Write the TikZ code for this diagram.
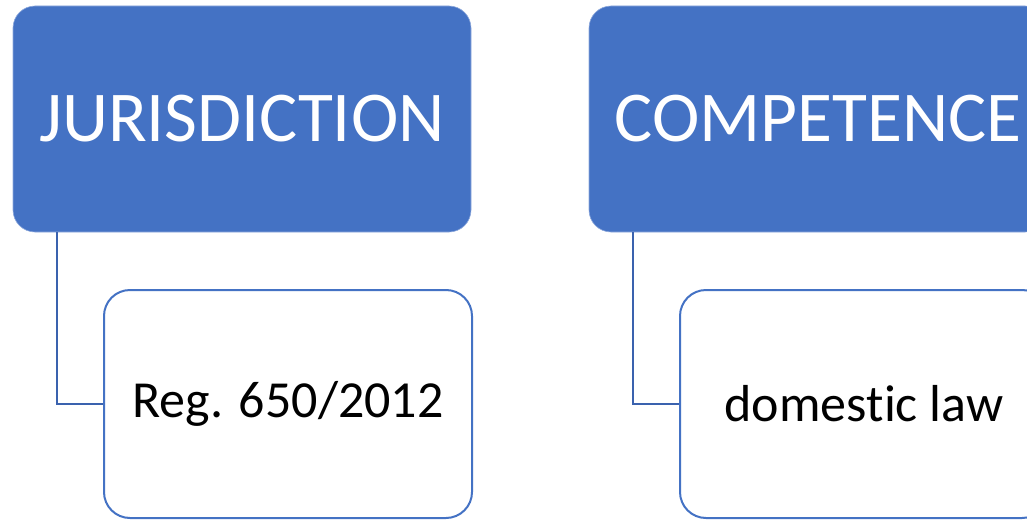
\documentclass[tikz,border=0pt]{standalone}
\usepackage{fontspec}
\setmainfont{Carlito}[Ligatures=NoCommon]
\usepackage{xcolor}
\usetikzlibrary{calc}

\definecolor{accent}{HTML}{4472C4}
\definecolor{linkblue}{HTML}{3A62AE}

\tikzset{
	headbox/.style={draw=accent!60!white, line width=0.6pt, fill=accent, rounded corners=22pt,
		minimum width=458pt, minimum height=226pt, inner sep=0pt, text=white,
		font=\fontsize{71.5}{76}\selectfont},
	itembox/.style={draw=accent, line width=2pt, fill=white, rounded corners=26pt,
		minimum width=368pt, minimum height=228pt, inner sep=0pt, text=black,
		font=\fontsize{52}{58}\selectfont},
	link/.style={draw=linkblue, line width=2pt}
}

\begin{document}
\begin{tikzpicture}[x=1pt, y=-1pt]
			\useasboundingbox (0,0) rectangle (1027,519);
			\clip (0,0) rectangle (1027,519);

			\node[headbox] (jur) at (242,119) {JURISDICTION};
			\node[headbox] (comp) at (818,119) {COMPETENCE};

			\node[itembox] (reg) at (288,404) {Reg. 650/2012};
			\node[itembox] (dom) at (864,404) {domestic law};

			\begin{scope}[link]
				\draw ([xshift=44pt]jur.south west) |- (reg.west);
				\draw ([xshift=44pt]comp.south west) |- (dom.west);
			\end{scope}
		\end{tikzpicture}
\end{document}
